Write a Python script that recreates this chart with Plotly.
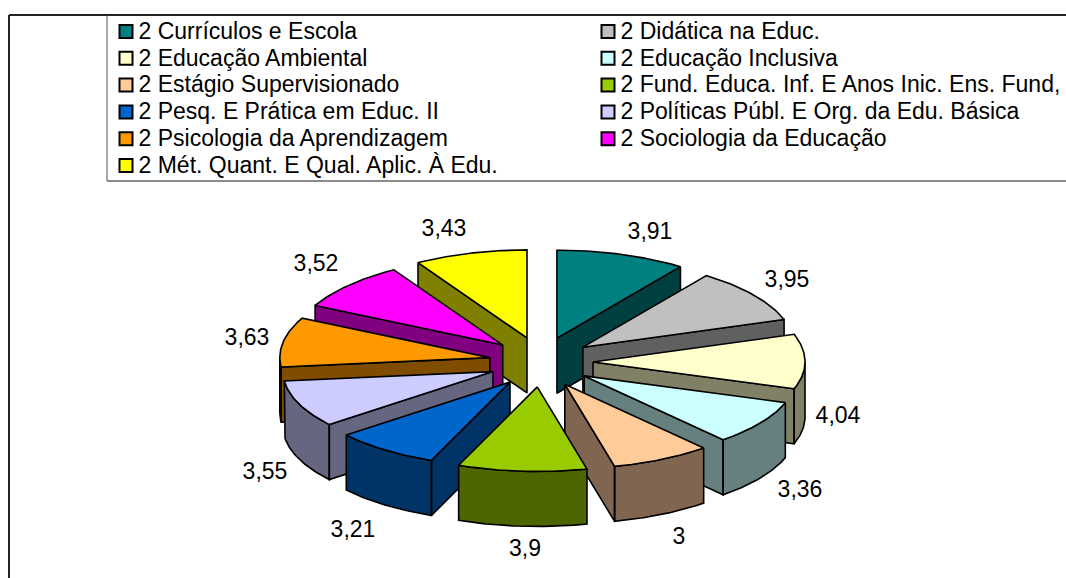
import math
import plotly.graph_objects as go

categories = ["2 Currículos e Escola", "2 Didática na Educ.", "2 Educação Ambiental", "2 Educação Inclusiva",
              "2 Estágio Supervisionado", "2 Fund. Educa. Inf. E Anos Inic. Ens. Fund,", "2 Pesq. E Prática em Educ. II",
              "2 Políticas Públ. E Org. da Edu. Básica", "2 Psicologia da Aprendizagem", "2 Sociologia da Educação",
              "2 Mét. Quant. E Qual. Aplic. À Edu."]
values = [3.91, 3.95, 4.04, 3.36, 3, 3.9, 3.21, 3.55, 3.63, 3.52, 3.43]
value_labels = ["3,91", "3,95", "4,04", "3,36", "3", "3,9", "3,21", "3,55", "3,63", "3,52", "3,43"]
top_colors = ["#008080", "#C0C0C0", "#FFFFCC", "#CCFFFF", "#FFCC99", "#99CC00", "#0066CC", "#CCCCFF", "#FF9900", "#FF00FF", "#FFFF00"]
side_colors = ["#004040", "#606060", "#808066", "#668080", "#806650", "#4D6600", "#003366", "#666680", "#804D00", "#800080", "#808000"]
label_centres = [(650, 233), (787, 281), (838, 417), (800, 491), (679, 538), (525, 550),
                 (353, 531), (265, 473), (247, 339), (316, 265), (444, 230)]

CX, CY, A_RIGHT, A_LEFT, B_BACK, B_FRONT, EXPL_X, EXPL_Y, DEPTH = 541, 362, 212, 210, 88, 84.5, 52, 25, 55
FONT = "Liberation Sans"
FS = 23

total = sum(values)
slices = []
cum = 0.0
for v in values:
    s = cum / total * 2 * math.pi
    cum += v
    e = cum / total * 2 * math.pi
    slices.append((s, e))


def arc_points(ax, ay, s, e, steps=40):
    pts = []
    for k in range(steps + 1):
        t = s + (e - s) * k / steps
        c, si = math.cos(t), math.sin(t)
        pts.append((ax + (A_RIGHT if si > 0 else A_LEFT) * si, ay - (B_BACK if c > 0 else B_FRONT) * c))
    return pts


def polys_to_xy(polys):
    xs, ys = [], []
    for p in polys:
        q = p + [p[0]]
        xs += [a for a, _ in q] + [None]
        ys += [b for _, b in q] + [None]
    return xs, ys


fig = go.Figure()
order = sorted(range(len(values)), key=lambda i: -math.cos((slices[i][0] + slices[i][1]) / 2))
for i in order:
    s, e = slices[i]
    m = (s + e) / 2
    ax, ay = CX + EXPL_X * math.sin(m), CY - EXPL_Y * math.cos(m)
    apex = (ax, ay)
    rim = arc_points(ax, ay, s, e)
    sides = []
    if math.sin(s) < 0:
        a, b = apex, rim[0]
        sides.append([a, b, (b[0], b[1] + DEPTH), (a[0], a[1] + DEPTH)])
    if math.sin(e) > 0:
        a, b = apex, rim[-1]
        sides.append([a, b, (b[0], b[1] + DEPTH), (a[0], a[1] + DEPTH)])
    lo, hi = max(s, math.pi / 2), min(e, 3 * math.pi / 2)
    if hi > lo:
        front = arc_points(ax, ay, lo, hi)
        sides.append(front + [(x, y + DEPTH) for x, y in reversed(front)])
    for polys, colour in ((sides, side_colors[i]), ([[apex] + rim], top_colors[i])):
        if not polys:
            continue
        xs, ys = polys_to_xy(polys)
        fig.add_trace(go.Scatter(x=xs, y=ys, mode="lines", fill="toself", fillcolor=colour,
                                 line=dict(color="black", width=1.6), hoverinfo="skip",
                                 name=categories[i], showlegend=False))

# value labels
fig.add_trace(go.Scatter(x=[p[0] for p in label_centres], y=[p[1] for p in label_centres],
                         mode="text", text=value_labels, textposition="middle center",
                         textfont=dict(family=FONT, size=FS, color="black"),
                         hoverinfo="skip", showlegend=False))

# legend grid
n = len(categories)
mx = [126 if i % 2 == 0 else 608 for i in range(n)]
ty = [31.5 + 26.8 * (i // 2) for i in range(n)]
fig.add_trace(go.Scatter(x=mx, y=ty, mode="markers", hoverinfo="skip", showlegend=False,
                         marker=dict(symbol="square", size=13, color=top_colors, line=dict(color="black", width=2))))
fig.add_trace(go.Scatter(x=[v + 12.5 for v in mx], y=[v + 1.5 for v in ty], mode="text", text=categories,
                         textposition="middle right",
                         textfont=dict(family=FONT, size=FS, color="black"), hoverinfo="skip", showlegend=False))

frame = [dict(type="line", x0=9, y0=15, x1=9, y1=578, line=dict(color="#222222", width=2)),
         dict(type="line", x0=9, y0=15, x1=1066, y1=15, line=dict(color="#222222", width=2)),
         dict(type="line", x0=107, y0=15, x1=107, y1=181, line=dict(color="#555555", width=1)),
         dict(type="line", x0=107, y0=181, x1=1066, y1=181, line=dict(color="#666666", width=1.5))]

fig.update_layout(width=1066, height=578, margin=dict(l=0, r=0, t=0, b=0), showlegend=False,
                  paper_bgcolor="white", plot_bgcolor="white", shapes=frame,
                  xaxis=dict(range=[0, 1066], visible=False, fixedrange=True),
                  yaxis=dict(range=[578, 0], visible=False, fixedrange=True))
fig.write_html("out.html", config=dict(displayModeBar=False),
               post_script="document.body.style.margin='0';document.body.style.overflow='hidden';")
